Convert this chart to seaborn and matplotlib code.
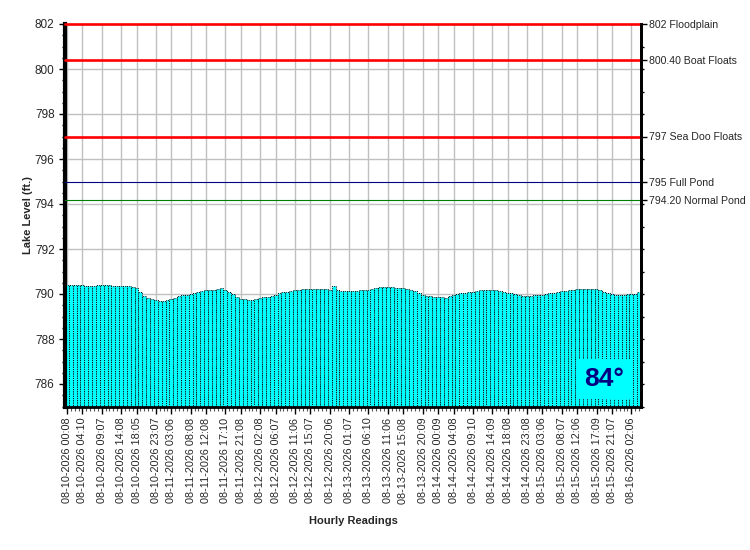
import matplotlib
matplotlib.use("Agg")
import matplotlib.pyplot as plt
import seaborn as sns
import pandas as pd
import numpy as np
from datetime import datetime
from matplotlib.ticker import MultipleLocator, FixedLocator

# ---------------- data ----------------
tick_labels = [
    "08-10-2026 00:08", "08-10-2026 04:10", "08-10-2026 09:07", "08-10-2026 14:08",
    "08-10-2026 18:05", "08-10-2026 23:07", "08-11-2026 03:06", "08-11-2026 08:08",
    "08-11-2026 12:08", "08-11-2026 17:10", "08-11-2026 21:08", "08-12-2026 02:08",
    "08-12-2026 06:07", "08-12-2026 11:06", "08-12-2026 15:07", "08-12-2026 20:06",
    "08-13-2026 01:07", "08-13-2026 06:10", "08-13-2026 11:06", "08-13-2026 15:08",
    "08-13-2026 20:09", "08-14-2026 00:09", "08-14-2026 04:08", "08-14-2026 09:10",
    "08-14-2026 14:09", "08-14-2026 18:08", "08-14-2026 23:08", "08-15-2026 03:06",
    "08-15-2026 08:07", "08-15-2026 12:06", "08-15-2026 17:09", "08-15-2026 21:07",
    "08-16-2026 02:06",
]

lake_level = [
    790.40, 790.40, 790.39, 790.38, 790.38, 790.36, 790.36, 790.37, 790.40, 790.40,
    790.40, 790.39, 790.37, 790.36, 790.36, 790.36, 790.35, 790.32, 790.27, 790.10,
    789.92, 789.82, 789.76, 789.72, 789.70, 789.71, 789.74, 789.79, 789.84, 789.90,
    789.94, 789.97, 790.00, 790.06, 790.11, 790.15, 790.17, 790.18, 790.19, 790.22,
    790.26, 790.18, 790.09, 789.99, 789.88, 789.80, 789.76, 789.73, 789.75, 789.79,
    789.82, 789.85, 789.87, 789.92, 789.97, 790.03, 790.07, 790.10, 790.14, 790.17,
    790.20, 790.22, 790.23, 790.23, 790.22, 790.23, 790.23, 790.22, 790.20, 790.34,
    790.17, 790.13, 790.12, 790.12, 790.13, 790.14, 790.17, 790.18, 790.19, 790.24,
    790.28, 790.29, 790.30, 790.31, 790.31, 790.28, 790.27, 790.27, 790.23, 790.20,
    790.15, 790.05, 789.96, 789.91, 789.89, 789.87, 789.87, 789.85, 789.84, 789.92,
    789.96, 789.99, 790.03, 790.06, 790.09, 790.11, 790.14, 790.16, 790.18, 790.20,
    790.20, 790.19, 790.15, 790.11, 790.06, 790.04, 789.99, 789.97, 789.92, 789.90,
    789.92, 789.96, 789.96, 789.96, 790.00, 790.05, 790.06, 790.10, 790.12, 790.14,
    790.18, 790.19, 790.22, 790.23, 790.23, 790.23, 790.23, 790.22, 790.16, 790.11,
    790.05, 790.00, 789.97, 789.96, 789.96, 789.99, 790.00, 790.00, 790.07,
]

ref_levels = [802.0, 800.4, 797.0, 795.0, 794.2]
ref_names = ["802 Floodplain", "800.40 Boat Floats", "797 Sea Doo Floats",
             "795 Full Pond", "794.20 Normal Pond"]
ref_colors = ["#FF0000", "#FF0000", "#FF0000", "#000080", "#008000"]
ref_widths = [1.9, 1.9, 1.9, 0.8, 0.8]

temperature_text = "84°"

# ---------------- figure ----------------
sns.set_style("white")
plt.rcParams['font.family'] = ['Liberation Sans', 'DejaVu Sans']

fig = plt.figure(figsize=(7.5, 5.5), dpi=100)
ax = fig.add_axes([65 / 750, 1 - 406.5 / 550, (641 - 65) / 750, (406.5 - 24) / 550])

df = pd.DataFrame({"reading": np.arange(len(lake_level)), "level": lake_level})
sns.barplot(data=df, x="reading", y="level", color="#00FFFF", saturation=1,
            width=1.0, ax=ax, zorder=2)
for p in ax.patches:
    p.set_edgecolor("black")
    p.set_linewidth(0.7)
    p.set_linestyle((0, (1, 1.3)))

ax.set_ylim(785, 802)
ax.set_xlim(-0.5, len(lake_level) - 0.5)

# tick positions from the label timestamps
t0 = datetime.strptime(tick_labels[0], "%m-%d-%Y %H:%M")
tick_pos = [round((datetime.strptime(s, "%m-%d-%Y %H:%M") - t0).total_seconds() / 3600)
            for s in tick_labels]
ax.xaxis.set_major_locator(FixedLocator(tick_pos))
ax.set_xticklabels(tick_labels, rotation=90, fontsize=7.8)
ax.xaxis.set_minor_locator(MultipleLocator(1))

ax.yaxis.set_major_locator(MultipleLocator(2))
ax.yaxis.set_minor_locator(MultipleLocator(0.5))
ax.tick_params(axis="y", which="major", labelsize=8.5, length=4, width=1, color="black",
               left=True)
ax.tick_params(axis="y", which="minor", length=2, width=1, color="black", left=True)
ax.tick_params(axis="x", which="major", length=5, width=1, color="black", bottom=True,
               pad=3)
ax.tick_params(axis="x", which="minor", length=3, width=0.8, color="#555555", bottom=True)

ax.grid(True, which="major", color="#C0C0C0", linewidth=1, zorder=0)
ax.set_axisbelow(True)

for lev, col, lw in zip(ref_levels, ref_colors, ref_widths):
    ax.axhline(lev, color=col, linewidth=lw, zorder=3, clip_on=False)

for side, w in [("left", 3), ("bottom", 2), ("right", 2)]:
    ax.spines[side].set_linewidth(w)
    ax.spines[side].set_color("black")
ax.spines["top"].set_visible(False)

ax.set_ylabel("Lake Level (ft.)", fontsize=8, fontweight="bold")
ax.yaxis.set_label_coords(-0.056, 0.5)
ax.set_xlabel("Hourly Readings", fontsize=8, fontweight="bold", labelpad=9)

# right axis with reference levels
ax2 = ax.twinx()
ax2.set_ylim(785, 802)
ax2.yaxis.set_major_locator(FixedLocator(ref_levels))
ax2.set_yticklabels(ref_names, fontsize=7.6)
ax2.yaxis.set_minor_locator(MultipleLocator(1))
ax2.tick_params(axis="y", which="major", length=4, width=1, color="black", right=True,
                pad=2)
ax2.tick_params(axis="y", which="minor", length=2, width=1, color="black", right=True)
for side in ["left", "top", "bottom"]:
    ax2.spines[side].set_visible(False)
ax2.spines["right"].set_linewidth(2)
ax2.spines["right"].set_color("black")

ax.text(0.97, 0.04, temperature_text, transform=ax.transAxes, ha="right", va="bottom",
        fontsize=19, fontweight="bold", color="#000080", zorder=5,
        bbox=dict(boxstyle="square,pad=0.3", facecolor="#00FFFF", edgecolor="none"))

fig.savefig("out.png", dpi=100)
